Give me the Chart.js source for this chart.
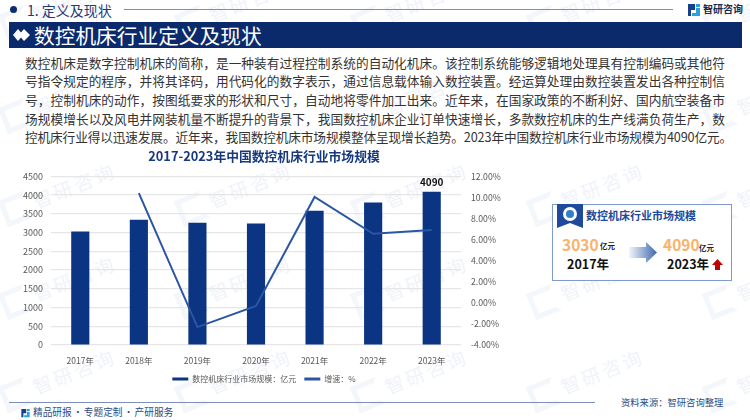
<!DOCTYPE html>
<html>
<head>
<meta charset="utf-8">
<script src="https://cdn.jsdelivr.net/npm/chart.js@4"></script>
<style>
  html, body { margin: 0; padding: 0; background: #fff; }
  body { width: 750px; height: 420px; position: relative; overflow: hidden; font-family: "Noto Sans CJK SC", "Noto Sans", sans-serif; }
  .abs { position: absolute; white-space: nowrap; }
  .wm { position: absolute; color: #f0f3f9; font-size: 19px; letter-spacing: 3px; transform: rotate(-22deg); white-space: nowrap; }
  .wmlogo { position: absolute; width: 18px; height: 18px; border: 5px solid #f3f6fa; border-right-color: transparent; transform: rotate(-22deg); }
  .para { position: absolute; left: 25px; width: 700px; font-size: 12.7px; line-height: 18px; color: #333; white-space: nowrap; text-align: justify; text-align-last: justify; }
  #chartBox { position: absolute; left: 0; top: 148px; width: 528px; height: 252px; }
</style>
</head>
<body>
<div id="marks"></div>

<!-- header -->
<div class="abs" style="left:10px;top:6px;width:7px;height:7px;border-radius:50%;background:#0d2c6e"></div>
<div class="abs" style="left:27px;top:1px;font-size:14px;line-height:18px;color:#1f3a75">1. 定义及现状</div>
<div class="abs" style="left:124px;top:9px;width:549px;height:1px;background:#7d8fb8"></div>
<svg class="abs" style="left:688px;top:4px" width="12" height="13" viewBox="0 0 12 13">
  <path d="M0 0H7V6H3V12H0Z" fill="#16408f"/><path d="M8 0H12V3H8ZM8 4H12V12H4V9H8Z" fill="#2aa3dc"/>
</svg>
<div class="abs" style="left:703px;top:2px;font-size:10px;line-height:14px;font-weight:700;color:#1b2b4d">智研咨询</div>

<div class="abs" style="left:9px;top:22px;width:733px;height:26px;background:#0b2a6b"></div>
<svg class="abs" style="left:13px;top:29px" width="17" height="12" viewBox="0 0 17 12">
  <path d="M5 0L10 6L5 12L0 6Z" fill="#fff"/><path d="M11 0L17 6L11 12L7.5 8L9.5 6L7.5 4Z" fill="#fff"/>
</svg>
<div class="abs" style="left:34px;top:21px;font-size:20.7px;line-height:28px;color:#fff">数控机床行业定义及现状</div>

<!-- body text -->
<div class="para" style="top:54px">数控机床是数字控制机床的简称，是一种装有过程控制系统的自动化机床。该控制系统能够逻辑地处理具有控制编码或其他符</div>
<div class="para" style="top:72px">号指令规定的程序，并将其译码，用代码化的数字表示，通过信息载体输入数控装置。经运算处理由数控装置发出各种控制信</div>
<div class="para" style="top:91px">号，控制机床的动作，按图纸要求的形状和尺寸，自动地将零件加工出来。近年来，在国家政策的不断利好、国内航空装备市</div>
<div class="para" style="top:110px">场规模增长以及风电并网装机量不断提升的背景下，我国数控机床企业订单快速增长，多款数控机床的生产线满负荷生产，数</div>
<div class="para" style="top:128px;width:704px;letter-spacing:-0.15px">控机床行业得以迅速发展。近年来，我国数控机床市场规模整体呈现增长趋势。2023年中国数控机床行业市场规模为4090亿元。</div>

<div id="chartBox"><canvas id="marketChart"></canvas></div>

<!-- side panel -->
<div class="abs" style="left:552px;top:204px;width:178px;height:75px;border:1px solid #7f9ad0;background:#fff"></div>
<svg class="abs" style="left:557px;top:204px" width="26" height="24" viewBox="0 0 26 24">
  <path d="M0 0H26V24L13 19L0 24Z" fill="#1d4a9c"/>
  <circle cx="13" cy="10" r="7" fill="#fff"/><circle cx="13" cy="10" r="4" fill="#2f80c8"/>
</svg>
<div class="abs" style="left:586px;top:207px;font-size:11px;line-height:16px;font-weight:700;color:#1d4a9c">数控机床行业市场规模</div>
<div class="abs" style="left:562px;top:234px;font-size:15.5px;line-height:20px;font-weight:700;color:#f9b36b">3030</div>
<div class="abs" style="left:600px;top:240px;font-size:7.5px;line-height:12px;font-weight:700;color:#222">亿元</div>
<div class="abs" style="left:567px;top:255px;font-size:12.5px;line-height:18px;font-weight:700;color:#111">2017年</div>
<svg class="abs" style="left:629px;top:242px" width="28" height="21" viewBox="0 0 28 21">
  <defs><linearGradient id="arrowFill"><stop offset="0" stop-color="#f2f5fa"/><stop offset="1" stop-color="#3f68ae"/></linearGradient></defs>
  <path d="M0 5H17V0L28 10.5L17 21V16H0Z" fill="url(#arrowFill)"/>
</svg>
<div class="abs" style="left:663px;top:234px;font-size:15.5px;line-height:20px;font-weight:700;color:#f9b36b">4090</div>
<div class="abs" style="left:699px;top:242px;font-size:7.5px;line-height:12px;font-weight:700;color:#222">亿元</div>
<div class="abs" style="left:667px;top:255px;font-size:12.5px;line-height:18px;font-weight:700;color:#111">2023年</div>
<svg class="abs" style="left:712px;top:259px" width="11" height="11" viewBox="0 0 11 11">
  <path d="M5.5 0L11 6H8V11H3V6H0Z" fill="#c00000"/>
</svg>

<!-- footer -->
<div class="abs" style="left:9px;top:402px;width:586px;height:1px;background:#7d8fb8"></div>
<svg class="abs" style="left:21px;top:409px" width="9" height="9" viewBox="0 0 12 13">
  <path d="M0 0H7V6H3V12H0Z" fill="#16408f"/><path d="M8 0H12V3H8ZM8 4H12V12H4V9H8Z" fill="#2aa3dc"/>
</svg>
<div class="abs" style="left:33px;top:405px;font-size:9.7px;line-height:15px;word-spacing:-1px;color:#2f4a80">精品研报 · 专题定制 · 产研服务</div>
<div class="abs" style="left:621px;top:395px;font-size:9.3px;line-height:14px;color:#2f4a80">资料来源：智研咨询整理</div>

<script>
const chartTitle = "2017-2023年中国数控机床行业市场规模";
const years = ["2017年", "2018年", "2019年", "2020年", "2021年", "2022年", "2023年"];
const marketSize = [3030, 3340, 3260, 3240, 3580, 3800, 4090];
const growthRate = [null, 10.4, -2.3, -0.3, 10.05, 6.55, 6.9];
const barLabel = "数控机床行业市场规模：亿元";
const lineLabel = "增速：%";

// faint background watermark
const marks = document.getElementById("marks");
for (let row = 0; row < 5; row++) {
  for (let col = 0; col < 5; col++) {
    const x = 30 + col * 176;
    const y = -15 + row * 93;
    marks.innerHTML += `<div class="wm" style="left:${x}px;top:${y}px">智研咨询</div>`;
    marks.innerHTML += `<div class="wmlogo" style="left:${x - 28}px;top:${y + 24}px"></div>`;
  }
}

// value above the last bar only
const lastBarLabel = {
  id: "lastBarLabel",
  afterDatasetsDraw(chart) {
    const bar = chart.getDatasetMeta(1).data[years.length - 1];
    const ctx = chart.ctx;
    ctx.save();
    ctx.font = "700 10px 'Noto Sans CJK SC'";
    ctx.fillStyle = "#111";
    ctx.textAlign = "center";
    ctx.textBaseline = "bottom";
    ctx.fillText(marketSize[years.length - 1], bar.x, bar.y - 5);
    ctx.restore();
  }
};

Chart.defaults.font.family = "'Noto Sans CJK SC', 'Noto Sans', sans-serif";
Chart.defaults.color = "#595959";

new Chart(document.getElementById("marketChart"), {
  data: {
    labels: years,
    datasets: [
      {
        type: "line",
        label: lineLabel,
        data: growthRate,
        yAxisID: "y1",
        borderColor: "#2a56a4",
        backgroundColor: "#2a56a4",
        borderWidth: 2,
        pointRadius: 0,
        tension: 0,
        order: 1
      },
      {
        type: "bar",
        label: barLabel,
        data: marketSize,
        yAxisID: "y",
        backgroundColor: "#0b3583",
        barPercentage: 0.31,
        categoryPercentage: 1,
        order: 2
      }
    ]
  },
  options: {
    responsive: true,
    maintainAspectRatio: false,
    animation: false,
    layout: { padding: { bottom: 7 } },
    plugins: {
      title: {
        display: true,
        text: chartTitle,
        color: "#17397f",
        font: { size: 12.8, weight: "700" },
        padding: { top: 0, bottom: 13 }
      },
      legend: {
        position: "bottom",
        reverse: true,
        labels: {
          boxWidth: 16,
          boxHeight: 3,
          font: { size: 8 },
          padding: 8,
          generateLabels(chart) {
            // same swatch height for both, no stroke round it
            return Chart.defaults.plugins.legend.labels.generateLabels(chart)
              .map(item => ({ ...item, lineWidth: 0 }));
          }
        }
      },
      tooltip: { enabled: false }
    },
    scales: {
      x: {
        afterFit(scale) { scale.height = 22; },
        grid: { display: false, drawTicks: false },
        border: { display: false },
        ticks: { font: { size: 8.5 }, maxRotation: 0, padding: 11 }
      },
      y: {
        min: 0,
        max: 4500,
        position: "left",
        afterFit(scale) { scale.width = 51; },
        ticks: { stepSize: 500, font: { size: 9 }, padding: 8, callback: v => String(v) },
        grid: { color: "#e6e6e6", lineWidth: 1.2, drawTicks: false },
        border: { display: false }
      },
      y1: {
        min: -4,
        max: 12,
        position: "right",
        afterFit(scale) { scale.width = 67; },
        ticks: {
          stepSize: 2,
          font: { size: 8.7 },
          padding: 2,
          callback: v => v.toFixed(2) + "%"
        },
        grid: { display: false },
        border: { display: false }
      }
    }
  },
  plugins: [lastBarLabel]
});
</script>
</body>
</html>
